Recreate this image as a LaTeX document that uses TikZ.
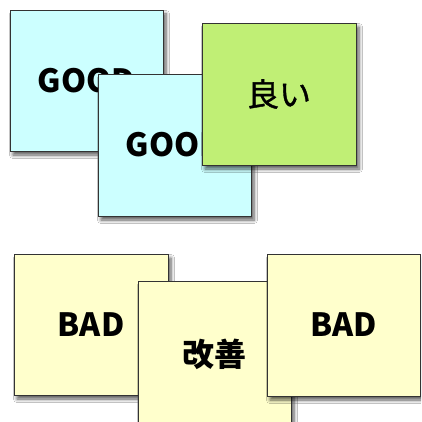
\documentclass[tikz,border=0pt]{standalone}
\usepackage{fontspec}
\setmainfont{Noto Sans CJK JP}
\usetikzlibrary{shadows.blur}
\definecolor{cyanfill}{HTML}{CCFFFF}
\definecolor{greenfill}{HTML}{C0EF75}
\definecolor{yellowfill}{HTML}{FFFFCC}
\definecolor{edge}{HTML}{333333}
\tikzset{
  card/.style={rectangle, draw=edge, line width=0.9pt, anchor=north west,
    minimum width=153pt, minimum height=141pt, inner sep=0pt, outer sep=0pt,
    font=\fontsize{32pt}{32pt}\selectfont\bfseries,
    blur shadow={shadow xshift=3pt, shadow yshift=-4pt, shadow blur steps=6, shadow blur radius=3.5pt, shadow opacity=65}},
  cyancard/.style={card, fill=cyanfill},
  greencard/.style={card, fill=greenfill},
  yellowcard/.style={card, fill=yellowfill}
}
\begin{document}
\begin{tikzpicture}[x=1pt,y=1pt]
\useasboundingbox (0,0) rectangle (421,-422);
\clip (0,0) rectangle (421,-422);
\fill[white] (0,0) rectangle (421,-422);
\node[cyancard] (g1) at (10,-10) {GOOD};
\node[cyancard, minimum height=142pt] (g2) at (98,-74) {GOOD};
\node[greencard, minimum width=154pt, minimum height=142pt] (g3) at (202,-23) {\mdseries\addfontfeature{FakeBold=1.2}良い};
\node[yellowcard, minimum width=154pt] (b1) at (14,-254) {BAD};
\node[yellowcard, minimum height=148pt, text depth=0pt] (b2) at (138,-281) {\raisebox{3.5pt}{改善}};
\node[yellowcard, minimum height=142pt] (b3) at (267,-254) {BAD};
\end{tikzpicture}
\end{document}
